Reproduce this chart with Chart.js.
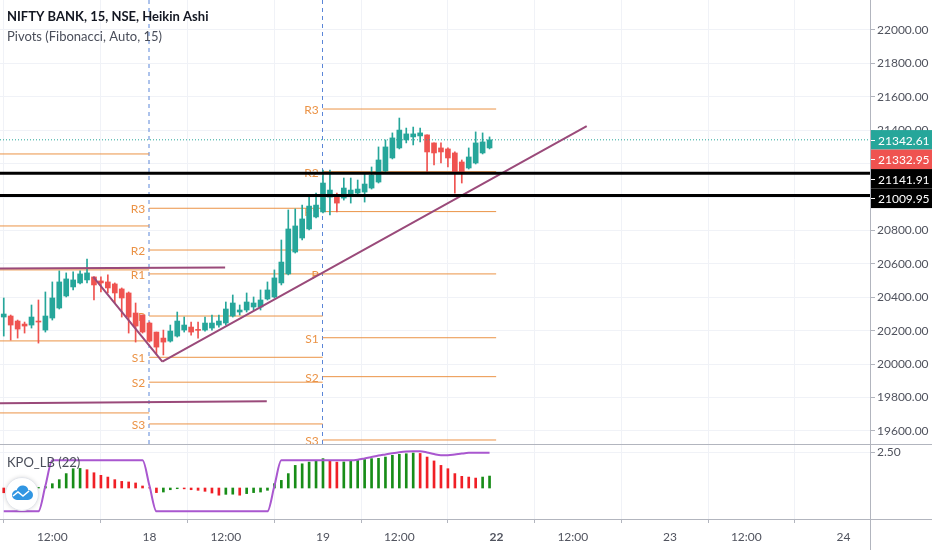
<!DOCTYPE html>
<html lang="en">
<head>
<meta charset="UTF-8">
<title>NIFTY BANK, 15, NSE, Heikin Ashi</title>
<style>
  html, body { margin: 0; padding: 0; background: #fff; }
  #wrap { width: 932px; height: 550px; }
</style>
</head>
<body>
<div id="wrap"><canvas id="chart" width="932" height="550"></canvas></div>

<script src="https://cdn.jsdelivr.net/npm/chart.js@4.4.0/dist/chart.umd.min.js"></script>
<script>
// bar 0 = first 15 min bar of the 18th, the 17th starts off screen
const FIRST_BAR = -21;

// heikin ashi candles, 17th (21 bars) / 18th (25) / 19th (25)
const OPEN = [
  20282, 20288, 20258, 20240, 20234, 20258, 20204, 20276, 20336, 20408, 20462, 20486, 20504, 20522, 20498, 20492, 20480, 20450, 20426, 20306, 20294,
  20246, 20192, 20156, 20138, 20168, 20204, 20222, 20208, 20204, 20216, 20234, 20246, 20288, 20312, 20324, 20342, 20342, 20390, 20402, 20486, 20540, 20671, 20755, 20809, 20881,
  20911, 21000, 21000, 20994, 21018, 21024, 21030, 21054, 21090, 21156, 21234, 21294, 21342, 21360, 21366, 21372, 21324, 21294, 21288, 21264, 21210, 21174, 21204, 21264, 21294
];
const HIGH = [
  20396, 20294, 20264, 20252, 20354, 20384, 20432, 20492, 20558, 20546, 20552, 20558, 20629, 20522, 20522, 20534, 20486, 20456, 20432, 20366, 20294,
  20252, 20192, 20204, 20234, 20312, 20282, 20252, 20252, 20282, 20294, 20294, 20372, 20414, 20354, 20426, 20402, 20444, 20492, 20564, 20743, 20923, 20929, 20952, 21000, 21024,
  21162, 21162, 21024, 21114, 21114, 21102, 21144, 21180, 21300, 21342, 21384, 21473, 21413, 21419, 21413, 21372, 21324, 21324, 21294, 21270, 21222, 21294, 21390, 21384, 21360
];
const LOW = [
  20168, 20144, 20156, 20186, 20216, 20126, 20192, 20264, 20330, 20402, 20444, 20480, 20486, 20384, 20432, 20426, 20366, 20282, 20186, 20132, 20186,
  20132, 20060, 20055, 20132, 20162, 20192, 20174, 20156, 20198, 20204, 20222, 20234, 20282, 20294, 20312, 20324, 20324, 20384, 20396, 20474, 20534, 20665, 20743, 20803, 20875,
  20905, 20893, 20911, 20982, 20964, 21012, 20970, 21048, 21084, 21150, 21228, 21288, 21324, 21312, 21330, 21150, 21192, 21204, 21180, 21024, 21084, 21168, 21198, 21258, 21288
];
const CLOSE = [
  20300, 20234, 20210, 20228, 20282, 20252, 20288, 20396, 20492, 20510, 20504, 20540, 20546, 20474, 20486, 20456, 20426, 20396, 20282, 20228, 20192,
  20138, 20102, 20132, 20198, 20258, 20234, 20192, 20202, 20246, 20246, 20258, 20330, 20366, 20324, 20372, 20366, 20384, 20444, 20516, 20611, 20809, 20827, 20869, 20946, 20952,
  21084, 21042, 20964, 21054, 21042, 21048, 21078, 21132, 21222, 21300, 21354, 21401, 21378, 21378, 21384, 21270, 21264, 21270, 21234, 21150, 21150, 21240, 21324, 21330, 21342.61
];

// KPO_LB (22) histogram and line
const KPO_HIST = [
  -0.33, -0.28, -0.22, -0.15, -0.08, 0.04, 0.10, 0.30, 0.58, 1.00, 1.34, 1.36, 1.27, 1.06, 0.88, 0.76, 0.58, 0.46, 0.42, 0.35, 0.14,
  0.02, -0.32, -0.28, -0.12, -0.05, -0.06, -0.12, -0.16, -0.23, -0.35, -0.50, -0.44, -0.43, -0.50, -0.39, -0.32, -0.28, -0.16, 0.30, 0.53, 1.00, 1.57, 1.68, 1.80, 1.92,
  2.04, 1.88, 1.80, 1.81, 1.88, 1.96, 1.98, 2.04, 2.06, 2.15, 2.27, 2.34, 2.38, 2.43, 2.40, 2.15, 1.88, 1.57, 1.34, 1.00, 0.81, 0.76, 0.69, 0.76, 0.83
];
const KPO_LINE = [
  -1.62, -1.62, -1.62, -1.62, -1.62, -1.62, 0.15, 1.92, 1.92, 1.92, 1.92, 1.92, 1.92, 1.92, 1.92, 1.92, 1.92, 1.92, 1.92, 1.92, 1.92,
  0.15, -1.62, -1.62, -1.62, -1.62, -1.62, -1.62, -1.62, -1.62, -1.62, -1.62, -1.62, -1.62, -1.62, -1.62, -1.62, -1.62, -1.62, 0.15, 1.92, 1.92, 1.92, 1.92, 1.92, 1.92,
  1.92, 1.92, 1.92, 1.92, 1.92, 1.96, 2.05, 2.15, 2.25, 2.33, 2.41, 2.48, 2.53, 2.55, 2.55, 2.47, 2.36, 2.28, 2.28, 2.33, 2.39, 2.44, 2.45, 2.45, 2.45
];

// fibonacci pivots per session (first bar of the session), R3..S3
const PIVOT_NAMES = ['R3', 'R2', 'R1', 'P', 'S1', 'S2', 'S3'];
const SESSION_START = [-25, 0, 25];
const PIVOT_17 = [21258, 20827, 20564, 20139, 19708, null, null];
const PIVOT_18 = [20933, 20683, 20540, 20288, 20041, 19892, 19642];
const PIVOT_19 = [21527, 21152, 20913, 20540, 20158, 19925, 19546];
const PIVOTS = [PIVOT_17, PIVOT_18, PIVOT_19];

// drawn lines: [bar1, price1, bar2, price2]
const TREND_LINES = [
  [-22, 20572, 10.9, 20578],
  [-22, 19766, 16.9, 19778],
  [-8.1, 20523, 1.85, 20015],
  [1.85, 20015, 63.0, 21425]
];
const LEVELS = [21141.91, 21009.95];
const LAST_HA = 21342.61;
const LAST_PRICE = 21332.95;

const PRICE_TICKS = [19600, 19800, 20000, 20200, 20400, 20600, 20800, 21000, 21200, 21400, 21600, 21800, 22000];
const KPO_TICKS = [2.5];
const X_TICK_POS = [-14, 0, 11, 25, 36, 50, 61, 75, 86, 100];
const X_TICK_LABELS = ['12:00', '18', '12:00', '19', '12:00', '22', '12:00', '23', '12:00', '24'];

// view
const X_MIN = -21.54, X_MAX = 103.82;
const Y_MIN = 19522, Y_MAX = 22179.5;
const K_MIN = -2.153, K_MAX = 3.056;

const UP = '#26a69a', DOWN = '#ef5350';
const PIVOT_COLOR = '#eb9346';
const TEXT = '#50535e';
const GRID = '#f0f2f7';
const FONT = "Lato, 'Liberation Sans', sans-serif";

Chart.defaults.font.family = FONT;

const bars = OPEN.map((o, k) => FIRST_BAR + k);
const candleColor = OPEN.map((o, k) => CLOSE[k] >= o ? UP : DOWN);
const histColor = KPO_HIST.map((v, k) => {
  const prev = k > 0 ? KPO_HIST[k - 1] : null;
  const rising = prev === null ? v >= 0 : v > prev;
  return rising ? '#188d18' : '#f01f26';
});

function segments(list) {
  // list of [x1, y1, x2, y2] -> one line dataset with gaps
  const pts = [];
  list.forEach(s => {
    pts.push({ x: s[0], y: s[1] }, { x: s[2], y: s[3] }, { x: s[2], y: null });
  });
  return pts;
}

const pivotSegs = [];
PIVOTS.forEach((lv, d) => {
  const s = SESSION_START[d] - 0.05;
  lv.forEach(v => { if (v !== null) pivotSegs.push([s, v, s + 25, v]); });
});

const sessionSegs = SESSION_START.slice(1).map(s => [s - 0.07, Y_MIN, s - 0.07, Y_MAX]);
const levelSegs = LEVELS.map(v => [X_MIN, v, X_MAX, v]);

// no auto padding from edge labels, the panes fill the canvas
function fixedWidth(s) {
  s.width = 62;
  s.paddingTop = 0;
  s.paddingBottom = 0;
}

const overlay = {
  id: 'overlay',
  beforeDatasetsDraw(chart) {
    const { ctx, scales: { x, y } } = chart;
    ctx.save();
    ctx.font = '12px ' + FONT;
    ctx.fillStyle = PIVOT_COLOR;
    ctx.textAlign = 'right';
    ctx.textBaseline = 'middle';
    PIVOTS.forEach((lv, d) => {
      const px = x.getPixelForValue(SESSION_START[d] - 0.05) - 4;
      if (px < 10) return;
      lv.forEach((v, k) => {
        if (v === null) return;
        ctx.fillText(PIVOT_NAMES[k], px, y.getPixelForValue(v) + 1);
      });
    });
    ctx.restore();
  },
  afterDraw(chart) {
    const { ctx, chartArea: a, scales: { y, y2 } } = chart;
    const W = chart.width;
    ctx.save();

    // pane borders
    ctx.strokeStyle = '#b2b5be';
    ctx.lineWidth = 1;
    ctx.beginPath();
    ctx.moveTo(0, y2.top + 0.5); ctx.lineTo(W, y2.top + 0.5);
    ctx.moveTo(0, a.bottom + 0.5); ctx.lineTo(W, a.bottom + 0.5);
    ctx.moveTo(a.right + 0.5, 0); ctx.lineTo(a.right + 0.5, chart.height);
    ctx.stroke();

    // legends
    ctx.textBaseline = 'middle';
    ctx.textAlign = 'left';
    ctx.fillStyle = '#131722';
    ctx.font = 'bold 13px ' + FONT;
    ctx.fillText('NIFTY BANK, 15, NSE, Heikin Ashi', 7, 17);
    ctx.fillStyle = '#4a4e5a';
    ctx.font = '13px ' + FONT;
    ctx.fillText('Pivots (Fibonacci, Auto, 15)', 7, 37);
    ctx.fillText('KPO_LB (22)', 7, 463);

    // logo badge
    const cx = 22, cy = 494;
    ctx.beginPath();
    ctx.arc(cx, cy, 16.5, 0, Math.PI * 2);
    ctx.fillStyle = '#fff';
    ctx.shadowColor = 'rgba(0,0,0,0.18)';
    ctx.shadowBlur = 4;
    ctx.fill();
    ctx.shadowBlur = 0;
    ctx.strokeStyle = '#e3e6ec';
    ctx.stroke();
    ctx.fillStyle = '#3196e2';
    ctx.beginPath();
    ctx.arc(cx - 5, cy + 1, 5, Math.PI * 0.5, Math.PI * 1.5);
    ctx.arc(cx + 0.5, cy - 2.5, 6, Math.PI * 1.05, Math.PI * 1.95);
    ctx.arc(cx + 6, cy + 1, 5, Math.PI * 1.5, Math.PI * 0.5);
    ctx.closePath();
    ctx.fill();
    ctx.strokeStyle = '#fff';
    ctx.lineWidth = 1.6;
    ctx.beginPath();
    ctx.moveTo(cx - 9, cy + 2); ctx.lineTo(cx - 4, cy - 2); ctx.lineTo(cx + 1, cy + 2); ctx.lineTo(cx + 7, cy - 3);
    ctx.stroke();

    // price tags on the right scale
    const tags = [
      { v: LAST_HA, bg: UP },
      { v: LAST_PRICE, bg: DOWN },
      { v: LEVELS[0], bg: '#000' },
      { v: LEVELS[1], bg: '#000' }
    ];
    const h = 19.5;
    let lastBottom = -Infinity;
    ctx.font = '12px ' + FONT;
    tags.forEach(t => {
      let c = y.getPixelForValue(t.v);
      if (c - h / 2 < lastBottom) c = lastBottom + h / 2;
      lastBottom = c + h / 2;
      ctx.fillStyle = t.bg;
      ctx.fillRect(a.right + 1, c - h / 2, W - a.right - 1, h);
      ctx.strokeStyle = '#fff';
      ctx.lineWidth = 1;
      ctx.beginPath();
      ctx.moveTo(a.right + 1, Math.round(c) + 0.5); ctx.lineTo(a.right + 5, Math.round(c) + 0.5);
      ctx.stroke();
      ctx.fillStyle = '#fff';
      ctx.fillText(t.v.toFixed(2), a.right + 8, c + 1);
    });
    ctx.restore();
  }
};

const tickFont = { size: 12 };

new Chart(document.getElementById('chart'), {
  type: 'line',
  data: {
    datasets: [
      {
        label: 'levels', data: segments(levelSegs),
        borderColor: '#000', borderWidth: 3, pointRadius: 0, order: 0
      },
      {
        label: 'trend', data: segments(TREND_LINES),
        borderColor: '#9a4a7a', borderWidth: 2, pointRadius: 0, order: 1
      },
      {
        label: 'last', data: segments([[X_MIN, LAST_HA, X_MAX, LAST_HA]]),
        borderColor: UP, borderWidth: 1, borderDash: [1, 2], pointRadius: 0, order: 2
      },
      {
        type: 'bar', label: 'body',
        data: bars.map((b, k) => ({ x: b, y: [OPEN[k], CLOSE[k]] })),
        backgroundColor: candleColor, barThickness: 5, minBarLength: 1, grouped: false, order: 3
      },
      {
        type: 'bar', label: 'wick',
        data: bars.map((b, k) => ({ x: b, y: [LOW[k], HIGH[k]] })),
        backgroundColor: candleColor, barThickness: 1, grouped: false, order: 4
      },
      {
        label: 'kpo', yAxisID: 'y2',
        data: bars.map((b, k) => ({ x: b, y: KPO_LINE[k] })),
        borderColor: '#a957cf', borderWidth: 2, pointRadius: 0,
        cubicInterpolationMode: 'monotone', order: 5
      },
      {
        label: 'pivots', data: segments(pivotSegs),
        borderColor: PIVOT_COLOR, borderWidth: 1, pointRadius: 0, order: 6
      },
      {
        label: 'sessions', data: segments(sessionSegs),
        borderColor: '#5b86d8', borderWidth: 1, borderDash: [4, 4], pointRadius: 0, order: 7
      },
      {
        type: 'bar', label: 'kpo hist', yAxisID: 'y2',
        data: bars.map((b, k) => ({ x: b, y: KPO_HIST[k] })),
        backgroundColor: histColor, barThickness: 2, grouped: false, order: 8
      }
    ]
  },
  options: {
    responsive: false,
    animation: false,
    devicePixelRatio: 1,
    layout: { padding: 0 },
    plugins: { legend: { display: false }, tooltip: { enabled: false } },
    scales: {
      x: {
        type: 'linear', min: X_MIN, max: X_MAX, offset: false,
        afterBuildTicks: s => { s.ticks = X_TICK_POS.map(v => ({ value: v })); },
        afterFit: s => { s.height = 31; s.paddingLeft = 0; s.paddingRight = 0; },
        ticks: {
          autoSkip: false, maxRotation: 0, padding: 7, color: TEXT,
          font: c => ({ size: 12, weight: c.tick && c.tick.label === '22' ? 'bold' : 'normal' }),
          callback: v => X_TICK_LABELS[X_TICK_POS.indexOf(v)]
        },
        grid: { color: GRID, tickColor: '#b2b5be', tickLength: 4 },
        border: { display: false }
      },
      y: {
        type: 'linear', position: 'right', stack: 'panes', stackWeight: 444,
        min: Y_MIN, max: Y_MAX,
        afterBuildTicks: s => { s.ticks = PRICE_TICKS.map(v => ({ value: v })); },
        afterFit: fixedWidth,
        ticks: { color: TEXT, font: tickFont, padding: 2, callback: v => v.toFixed(2) },
        grid: { color: GRID, tickColor: '#b2b5be', tickLength: 5 },
        border: { display: false }
      },
      y2: {
        type: 'linear', position: 'right', stack: 'panes', stackWeight: 75,
        min: K_MIN, max: K_MAX,
        afterBuildTicks: s => { s.ticks = KPO_TICKS.map(v => ({ value: v })); },
        afterFit: fixedWidth,
        ticks: { color: TEXT, font: tickFont, padding: 2, callback: v => v.toFixed(2) },
        grid: { color: GRID, tickColor: '#b2b5be', tickLength: 5 },
        border: { display: false }
      }
    }
  },
  plugins: [overlay]
});
</script>
</body>
</html>
